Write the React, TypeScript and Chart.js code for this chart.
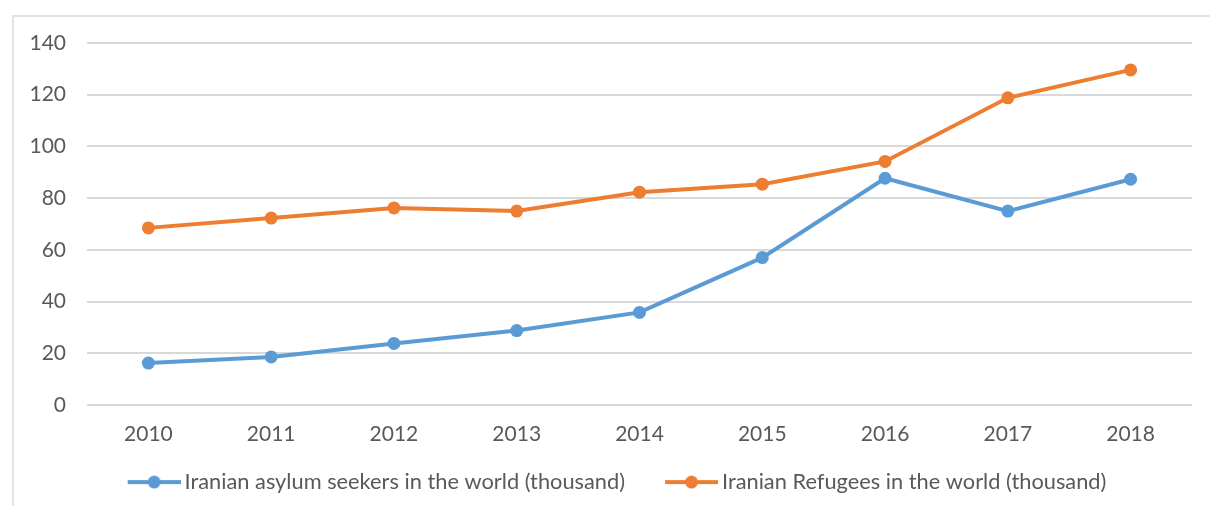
import React, { useEffect, useRef } from "react";
import { Chart, registerables } from "chart.js";

Chart.register(...registerables);

const years = ["2010", "2011", "2012", "2013", "2014", "2015", "2016", "2017", "2018"];
const asylumSeekers = [16.2, 18.6, 23.8, 28.8, 35.8, 57, 87.7, 75, 87.3];
const refugees = [68.5, 72.3, 76.2, 75, 82.3, 85.4, 94.2, 118.8, 129.6];
const seriesNames = [
  "Iranian asylum seekers in the world (thousand)",
  "Iranian Refugees in the world (thousand)",
];
const yTicks = { min: 0, max: 140, step: 20 };

const BLUE = "#5B9BD5";
const ORANGE = "#ED7D31";
const TEXT = "#595959";
const GRID = "#D9D9D9";
const FONT = "Lato, 'Open Sans', sans-serif";
const LEGEND_BOX = 76;

function marker(color: string): HTMLCanvasElement {
  const c = document.createElement("canvas");
  const w = LEGEND_BOX + 14;
  c.width = w;
  c.height = 14;
  const ctx = c.getContext("2d")!;
  const x0 = w - 53;
  ctx.strokeStyle = color;
  ctx.lineWidth = 4;
  ctx.beginPath();
  ctx.moveTo(x0, 7);
  ctx.lineTo(w, 7);
  ctx.stroke();
  ctx.fillStyle = color;
  ctx.beginPath();
  ctx.arc(x0 + 26.5, 7, 6.5, 0, Math.PI * 2);
  ctx.fill();
  return c;
}

export default function App() {
  const ref = useRef<HTMLCanvasElement | null>(null);

  useEffect(() => {
    if (!ref.current) return;
    const markers = [marker(BLUE), marker(ORANGE)];
    const chart = new Chart(ref.current, {
      type: "line",
      data: {
        labels: years,
        datasets: [
          {
            label: seriesNames[0],
            data: asylumSeekers,
            borderColor: BLUE,
            backgroundColor: BLUE,
            borderWidth: 4,
            pointRadius: 6.5,
            pointBackgroundColor: BLUE,
            pointBorderWidth: 0,
            tension: 0,
          },
          {
            label: seriesNames[1],
            data: refugees,
            borderColor: ORANGE,
            backgroundColor: ORANGE,
            borderWidth: 4,
            pointRadius: 6.5,
            pointBackgroundColor: ORANGE,
            pointBorderWidth: 0,
            tension: 0,
          },
        ],
      },
      options: {
        animation: false,
        responsive: false,
        maintainAspectRatio: false,
        layout: { padding: { left: 12, right: 18, top: 43, bottom: 3 } },
        plugins: {
          tooltip: { enabled: false },
          legend: {
            position: "bottom",
            labels: {
              color: TEXT,
              font: { family: FONT, size: 21.8 },
              usePointStyle: true,
              pointStyleWidth: LEGEND_BOX,
              padding: 10,
              generateLabels: (chart: any) =>
                chart.data.datasets.map((ds: any, i: number) => ({
                  text: ds.label,
                  pointStyle: markers[i],
                  fillStyle: ds.borderColor,
                  strokeStyle: ds.borderColor,
                  lineWidth: 0,
                  fontColor: TEXT,
                  hidden: false,
                  datasetIndex: i,
                })),
            },
          },
        },
        scales: {
          x: {
            offset: true,
            grid: { display: false },
            border: { display: false },
            ticks: { color: TEXT, font: { family: FONT, size: 21 }, padding: 9 },
            afterFit: (s: any) => {
              s.height += 5;
            },
          },
          y: {
            min: yTicks.min,
            max: yTicks.max,
            grid: { color: GRID, lineWidth: 2, drawTicks: false },
            border: { display: false },
            ticks: {
              stepSize: yTicks.step,
              color: TEXT,
              font: { family: FONT, size: 21 },
              padding: 21,
            },
            afterFit: (s: any) => {
              s.width = 75;
            },
          },
        },
      },
    });
    return () => chart.destroy();
  }, []);

  return (
    <div
      style={{
        position: "fixed",
        left: 0,
        top: 0,
        width: 1210,
        height: 506,
        background: "#fff",
        overflow: "hidden",
      }}
    >
      <div
        style={{
          position: "absolute",
          left: 12,
          top: 15,
          width: 1250,
          height: 600,
          borderLeft: "2px solid #E3E3E3",
          borderTop: "2px solid #E3E3E3",
        }}
      />
      <canvas
        ref={ref}
        width={1210}
        height={506}
        style={{ position: "absolute", left: 0, top: 0 }}
      />
    </div>
  );
}
